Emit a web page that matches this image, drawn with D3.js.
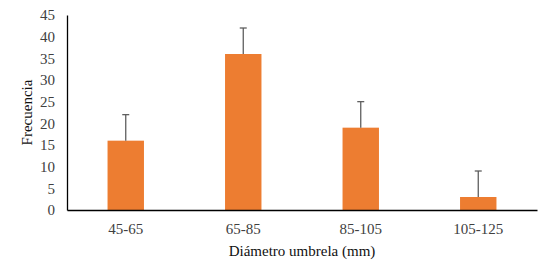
<!DOCTYPE html>
<html>
<head>
<meta charset="utf-8">
<script src="https://cdn.jsdelivr.net/npm/d3@7"></script>
<style>
body { margin: 0; background: #fff; }
</style>
</head>
<body>
<svg id="chart" width="551" height="276"></svg>
<script>
// datos
var categories = ["45-65", "65-85", "85-105", "105-125"];
var frecuencia = [16, 36, 19, 3];
var errorUp = [6, 6, 6, 6];
var yTicks = [0, 5, 10, 15, 20, 25, 30, 35, 40, 45];

var serif = "'Liberation Serif', 'DejaVu Serif', serif";

var svg = d3.select("#chart"),
    margin = {top: 15, right: 14, bottom: 66, left: 67},
    width = 551 - margin.left - margin.right,
    height = 276 - margin.top - margin.bottom,
    g = svg.append("g").attr("transform", "translate(" + margin.left + "," + margin.top + ")");

var x = d3.scaleBand()
    .domain(categories)
    .range([0, width])
    .paddingInner(0.69)
    .paddingOuter(0.345);

var y = d3.scaleLinear()
    .domain([0, 45])
    .range([height, 0]);

// bars
g.selectAll(".bar")
    .data(categories)
    .enter().append("rect")
    .attr("class", "bar")
    .attr("x", function (d) { return x(d); })
    .attr("y", function (d, i) { return y(frecuencia[i]); })
    .attr("width", x.bandwidth())
    .attr("height", function (d, i) { return height - y(frecuencia[i]); })
    .attr("fill", "#ED7D31");

// error bars (solo hacia arriba)
var err = g.selectAll(".err")
    .data(categories)
    .enter().append("g")
    .attr("class", "err")
    .attr("stroke", "#595959")
    .attr("stroke-width", 1.25);

err.append("line")
    .attr("x1", function (d) { return x(d) + x.bandwidth() / 2; })
    .attr("x2", function (d) { return x(d) + x.bandwidth() / 2; })
    .attr("y1", function (d, i) { return y(frecuencia[i]); })
    .attr("y2", function (d, i) { return y(frecuencia[i] + errorUp[i]); });

err.append("line")
    .attr("x1", function (d) { return x(d) + x.bandwidth() / 2 - 3.5; })
    .attr("x2", function (d) { return x(d) + x.bandwidth() / 2 + 3.5; })
    .attr("y1", function (d, i) { return y(frecuencia[i] + errorUp[i]); })
    .attr("y2", function (d, i) { return y(frecuencia[i] + errorUp[i]); });

// y axis
var yAxis = g.append("g")
    .call(d3.axisLeft(y).tickValues(yTicks).tickSize(0).tickPadding(12));
yAxis.select(".domain").attr("stroke", "#000").attr("stroke-width", 1.3);
yAxis.selectAll("text")
    .style("font-family", serif)
    .style("font-size", "15px")
    .attr("fill", "#404040");

// x axis
var xAxis = g.append("g")
    .attr("transform", "translate(0," + height + ")")
    .call(d3.axisBottom(x).tickSize(0).tickPadding(13));
xAxis.select(".domain").attr("stroke", "#000").attr("stroke-width", 1.5);
xAxis.selectAll("text")
    .style("font-family", serif)
    .style("font-size", "15px")
    .attr("fill", "#404040");

// text label for the x axis
svg.append("text")
    .attr("x", margin.left + width / 2)
    .attr("y", 256)
    .style("text-anchor", "middle")
    .style("font-family", serif)
    .style("font-size", "15px")
    .attr("fill", "#111")
    .text("Diámetro umbrela (mm)");

// text label for the y axis
svg.append("text")
    .attr("transform", "translate(32," + (margin.top + height / 2) + ") rotate(-90)")
    .style("text-anchor", "middle")
    .style("font-family", serif)
    .style("font-size", "15px")
    .attr("fill", "#111")
    .text("Frecuencia");
</script>
</body>
</html>
